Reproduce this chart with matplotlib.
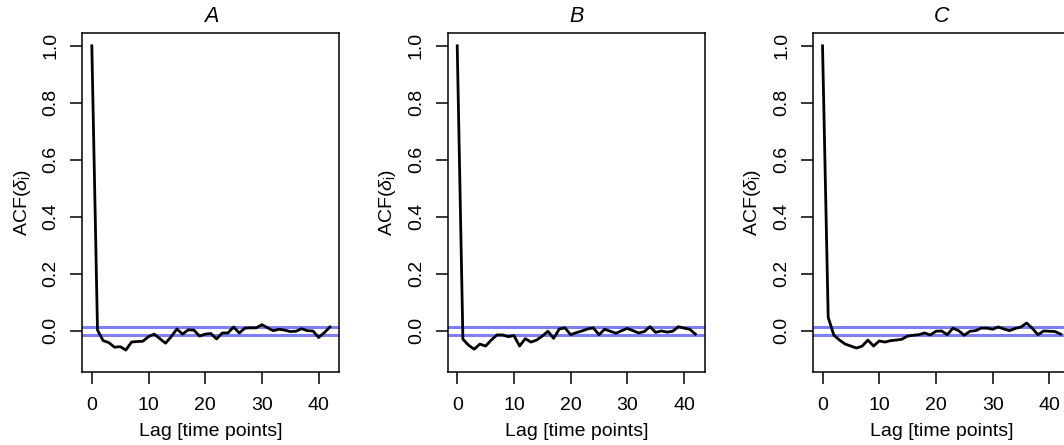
import numpy as np
import matplotlib
matplotlib.use("Agg")
from matplotlib import pyplot as plt

plt.rcParams['font.family'] = ['Liberation Sans', 'DejaVu Sans']
plt.rcParams['mathtext.fontset'] = 'custom'
plt.rcParams['mathtext.rm'] = 'Liberation Sans'
plt.rcParams['mathtext.it'] = 'Liberation Sans:italic'

titles = ['A', 'B', 'C']
lags = np.arange(0, 43)

acf_a = [1.0, 0.002, -0.035, -0.042, -0.058, -0.056, -0.068, -0.040, -0.038, -0.037,
         -0.021, -0.012, -0.028, -0.044, -0.021, 0.006, -0.012, 0.003, 0.002, -0.019,
         -0.012, -0.010, -0.029, -0.008, -0.008, 0.013, -0.008, 0.009, 0.010, 0.010,
         0.021, 0.010, 0.000, 0.005, 0.002, -0.003, -0.002, 0.007, 0.000, -0.001,
         -0.024, -0.007, 0.013]
acf_b = [1.0, -0.030, -0.051, -0.065, -0.047, -0.054, -0.033, -0.015, -0.015, -0.021,
         -0.017, -0.054, -0.028, -0.040, -0.033, -0.019, -0.002, -0.027, 0.006, 0.010,
         -0.014, -0.007, -0.001, 0.006, 0.010, -0.014, 0.005, -0.002, -0.009, 0.000,
         0.008, 0.000, -0.008, -0.003, 0.014, -0.006, -0.001, -0.005, -0.002, 0.014,
         0.009, 0.005, -0.012]
acf_c = [1.0, 0.047, -0.016, -0.033, -0.047, -0.054, -0.061, -0.054, -0.033, -0.054,
         -0.036, -0.040, -0.035, -0.033, -0.030, -0.019, -0.016, -0.014, -0.008, -0.015,
         -0.002, -0.001, -0.014, 0.009, 0.000, -0.016, -0.002, 0.000, 0.009, 0.009,
         0.005, 0.013, 0.006, 0.000, 0.008, 0.013, 0.027, 0.008, -0.014, -0.001,
         -0.002, -0.003, -0.012]
ci = 0.014

series = [acf_a, acf_b, acf_c]
lefts = [82.3, 447.7, 813.0]

fig = plt.figure(figsize=(10.64, 4.45), dpi=100)
W, H = 1064, 445
for i in range(3):
    ax = fig.add_axes([lefts[i] / W, (H - 371.7) / H, 257.2 / W, (371.7 - 33.3) / H])
    ax.plot(lags, series[i], color='black', lw=2.0, zorder=3)
    ax.axhline(ci, color='#7070f4', lw=2.2, alpha=0.9, zorder=2)
    ax.axhline(-ci, color='#7070f4', lw=2.2, alpha=0.9, zorder=2)
    ax.set_xlim(-1.68, 43.68)
    ax.set_ylim(-0.144, 1.044)
    ax.set_xticks([0, 10, 20, 30, 40])
    ax.set_yticks([0.0, 0.2, 0.4, 0.6, 0.8, 1.0])
    ax.set_yticklabels(['0.0', '0.2', '0.4', '0.6', '0.8', '1.0'], rotation=90, va='center')
    ax.tick_params(direction='out', length=8.5, width=1.1, labelsize=14, colors='black')
    ax.tick_params(axis='x', pad=10)
    ax.tick_params(axis='y', pad=8)
    for s in ax.spines.values():
        s.set_linewidth(1.1)
    ax.set_title(titles[i], fontsize=15.5, style='italic', pad=8)
    ax.set_xlabel('Lag [time points]', fontsize=14, labelpad=6)
    ax.set_ylabel('ACF($\\delta_{\\mathrm{i}}$)', fontsize=14, labelpad=7)

fig.savefig('out.png', dpi=100)
